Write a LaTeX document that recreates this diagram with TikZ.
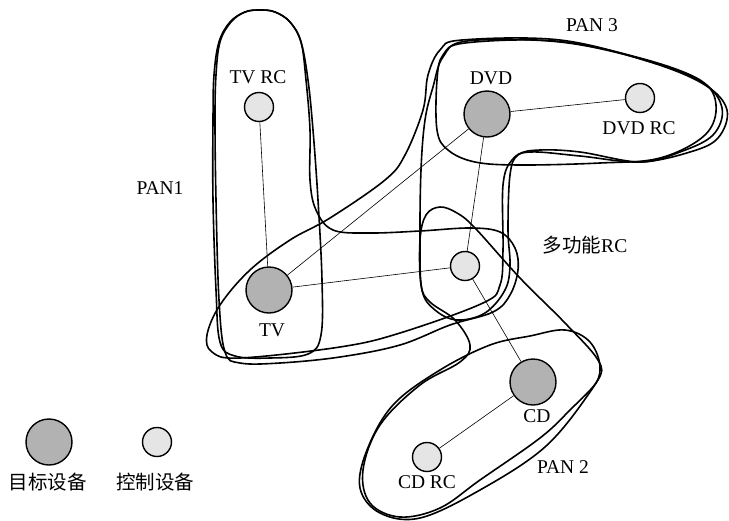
\documentclass[tikz,border=0pt]{standalone}
\usepackage{fontspec}
\setmainfont{Liberation Serif}
\newfontfamily\cjk{Noto Sans CJK SC}
\begin{document}
\begin{tikzpicture}[x=1pt,y=-1pt,
  pan/.style={draw=black,line width=1.6pt,smooth cycle,tension=0.6},
  bigdev/.style={circle,draw=black,line width=1.4pt,fill=black!30,minimum size=46pt,inner sep=0pt},
  smalldev/.style={circle,draw=black,line width=1.4pt,fill=black!10,minimum size=29pt,inner sep=0pt},
  link/.style={draw=black,line width=0.6pt},
  lbl/.style={inner sep=0pt,font=\fontsize{19.5}{22}\selectfont},
  cjklbl/.style={inner sep=0pt,font=\fontsize{19.5}{22}\selectfont\cjk}]
\useasboundingbox (0,0) rectangle (729,520);
% PAN outlines
\draw[pan] plot coordinates {(260,10) (275,12) (290,22) (301,42) (308,80) (313,130) (318,200) (322,280) (321,335) (308,354) (270,358) (235,356) (220,342) (216,290) (213,200) (213,120) (214,75) (219,42) (230,22) (245,12)};
\draw[pan] plot coordinates {(260,10) (275,12) (290,22) (301,42) (306,80) (310,130) (310,180) (316,210) (333,230) (370,233) (420,231) (470,228) (500,232) (515,248) (518,270) (510,295) (493,312) (450,325) (400,345) (340,357) (280,363) (240,363) (225,352) (219,300) (216,200) (215,120) (216,75) (220,42) (231,22) (245,12)};
\draw[pan] plot coordinates {(423,110) (428,75) (440,50) (462,40) (560,40) (650,62) (705,85) (727,110) (718,138) (690,152) (640,162) (580,156) (530,152) (512,160) (503,185) (503,250) (500,285) (483,303) (400,333) (340,347) (240,358) (212,352) (207,335) (220,305) (250,270) (290,240) (330,218) (385,180) (405,155)};
\draw[pan] plot coordinates {(433,87) (443,57) (467,41) (560,42) (645,60) (702,82) (722,108) (713,135) (680,152) (640,162) (580,152) (540,150) (518,155) (510,175) (508,230) (510,265) (505,290) (485,313) (457,320) (435,310) (422,290) (420,240) (421,170) (425,120)};
\draw[pan] plot coordinates {(437,80) (443,55) (465,43) (555,41) (640,58) (700,80) (716,105) (705,135) (660,158) (600,163) (520,165) (475,162) (448,150) (437,130)};
\draw[pan] plot coordinates {(440,207) (457,213) (475,228) (520,278) (565,323) (598,360) (598,380) (570,410) (540,438) (480,480) (440,508) (400,517) (370,503) (363,470) (380,425) (420,385) (460,362) (470,345) (455,320) (430,302) (421,285) (420,240) (426,215)};
\draw[pan] plot coordinates {(600,368) (590,342) (565,330) (530,336) (490,345) (440,370) (393,405) (367,450) (360,488) (380,513) (420,518) (480,490) (545,447) (590,392)};
% devices
\node[smalldev] (tvrc) at (259,107) {};
\node[bigdev] (tv) at (269,290) {};
\node[bigdev] (dvd) at (487,114) {};
\node[smalldev] (dvdrc) at (640,98) {};
\node[smalldev] (mrc) at (465,266) {};
\node[bigdev] (cd) at (533,382) {};
\node[smalldev] (cdrc) at (427,457) {};
% links
\draw[link] (tvrc) -- (tv);
\draw[link] (tv) -- (dvd);
\draw[link] (tv) -- (mrc);
\draw[link] (dvd) -- (dvdrc);
\draw[link] (dvd) -- (mrc);
\draw[link] (mrc) -- (cd);
\draw[link] (cd) -- (cdrc);
% labels
\node[lbl] (ltvrc) at (258,77) {TV RC};
\node[lbl] (ltv) at (272,330) {TV};
\node[lbl] (ldvd) at (491,78) {DVD};
\node[lbl] (ldvdrc) at (639,128) {DVD RC};
\node[lbl] (lcd) at (537,416) {CD};
\node[lbl] (lcdrc) at (427,482) {CD RC};
\node[lbl] (lpan1) at (160,188) {PAN1};
\node[lbl] (lpan2) at (563,467) {PAN 2};
\node[lbl] (lpan3) at (592,25) {PAN 3};
\node[inner sep=0pt] (lmrc) at (585,245) {{\fontsize{19.5}{22}\selectfont\cjk 多功能}{\fontsize{19.5}{22}\selectfont RC}};
% legend
\node[bigdev] (legbig) at (49,442) {};
\node[smalldev] (legsmall) at (157,442) {};
\node[cjklbl] (lbig) at (48,482) {目标设备};
\node[cjklbl] (lsmall) at (155,482) {控制设备};
\end{tikzpicture}
\end{document}
